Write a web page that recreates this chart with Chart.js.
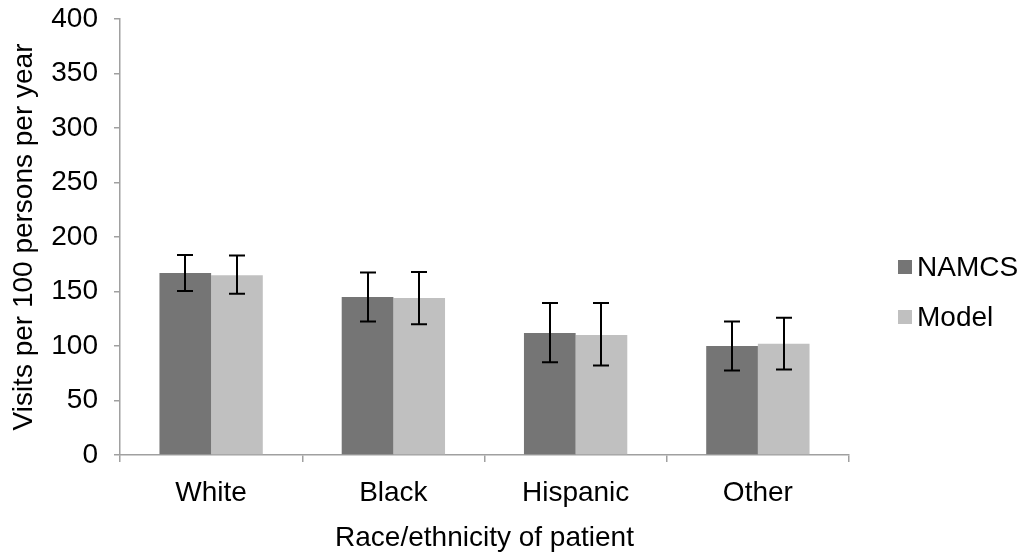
<!DOCTYPE html>
<html>
<head>
<meta charset="utf-8">
<script src="https://cdn.jsdelivr.net/npm/chart.js@4/dist/chart.umd.min.js"></script>
<style>
  html, body { margin: 0; padding: 0; background: #fff; }
  #chart { display: block; }
</style>
</head>
<body>
<canvas id="chart" width="1028" height="559"></canvas>
<script>
const categories = ["White", "Black", "Hispanic", "Other"];
const seriesNames = ["NAMCS", "Model"];
const namcsValues = [167, 145, 112, 100];
const namcsLow = [150.5, 122.5, 85, 77.5];
const namcsHigh = [183.5, 167.5, 139.5, 122.5];
const modelValues = [165, 144, 110, 102];
const modelLow = [148, 120, 82, 78.5];
const modelHigh = [183, 168, 139.5, 126];
const yTicks = [0, 50, 100, 150, 200, 250, 300, 350, 400];

const darkGrey = "#757575";
const lightGrey = "#c0c0c0";
const axisGrey = "#a0a0a0";
const fontFamily = "'Liberation Sans', Arial, Helvetica, sans-serif";

Chart.defaults.font.family = fontFamily;
Chart.defaults.font.size = 28;
Chart.defaults.color = "#000";

const errorBars = {
    id: "errorBars",
    afterDatasetsDraw(chart) {
        const ctx = chart.ctx;
        const y = chart.scales.y;
        ctx.save();
        ctx.strokeStyle = "#000";
        ctx.lineWidth = 2;
        chart.data.datasets.forEach((ds, i) => {
            const meta = chart.getDatasetMeta(i);
            meta.data.forEach((bar, j) => {
                const top = y.getPixelForValue(ds.high[j]);
                const bottom = y.getPixelForValue(ds.low[j]);
                const x = Math.round(bar.x);
                ctx.beginPath();
                ctx.moveTo(x, top);
                ctx.lineTo(x, bottom);
                ctx.moveTo(x - 8, top);
                ctx.lineTo(x + 8, top);
                ctx.moveTo(x - 8, bottom);
                ctx.lineTo(x + 8, bottom);
                ctx.stroke();
            });
        });
        ctx.restore();
    }
};

const sideLegend = {
    id: "sideLegend",
    afterDraw(chart) {
        const ctx = chart.ctx;
        ctx.save();
        ctx.font = "28px " + fontFamily;
        ctx.textBaseline = "middle";
        ctx.textAlign = "left";
        chart.data.datasets.forEach((ds, i) => {
            const cy = 267 + i * 50;
            ctx.fillStyle = ds.backgroundColor;
            ctx.fillRect(898, cy - 7, 14, 14);
            ctx.fillStyle = "#000";
            ctx.fillText(ds.label, 917, cy + 1);
        });
        ctx.restore();
    }
};

const ctx = document.getElementById("chart").getContext("2d");

new Chart(ctx, {
    type: "bar",
    data: {
        labels: categories,
        datasets: [
            {
                label: seriesNames[0],
                data: namcsValues,
                low: namcsLow,
                high: namcsHigh,
                backgroundColor: darkGrey,
                categoryPercentage: 0.567,
                barPercentage: 1.0
            },
            {
                label: seriesNames[1],
                data: modelValues,
                low: modelLow,
                high: modelHigh,
                backgroundColor: lightGrey,
                categoryPercentage: 0.567,
                barPercentage: 1.0
            }
        ]
    },
    options: {
        responsive: false,
        animation: false,
        layout: {
            padding: { left: 0, top: 19, right: 179, bottom: 0 }
        },
        plugins: {
            legend: { display: false },
            tooltip: { enabled: false }
        },
        scales: {
            x: {
                offset: true,
                grid: {
                    display: true,
                    offset: true,
                    drawOnChartArea: false,
                    drawTicks: true,
                    tickLength: 7,
                    color: axisGrey,
                    lineWidth: 1.5
                },
                border: { color: axisGrey, width: 1.5 },
                ticks: { padding: 14 },
                title: {
                    display: true,
                    text: "Race/ethnicity of patient",
                    padding: { top: 0, bottom: 4 }
                },
                afterFit(scale) {
                    scale.height = 104;
                    scale.paddingLeft = 0;
                    scale.paddingRight = 0;
                }
            },
            y: {
                min: 0,
                max: 400,
                afterBuildTicks(scale) {
                    scale.ticks = yTicks.map(v => ({ value: v }));
                },
                grid: {
                    display: true,
                    drawOnChartArea: false,
                    drawTicks: true,
                    tickLength: 6,
                    color: axisGrey,
                    lineWidth: 1.5
                },
                border: { color: axisGrey, width: 1.5 },
                ticks: { padding: 16 },
                title: {
                    display: true,
                    text: "Visits per 100 persons per year",
                    padding: { top: 7, bottom: 0 }
                },
                afterFit(scale) {
                    scale.width = 120;
                    scale.paddingTop = 0;
                    scale.paddingBottom = 0;
                }
            }
        }
    },
    plugins: [errorBars, sideLegend]
});
</script>
</body>
</html>
